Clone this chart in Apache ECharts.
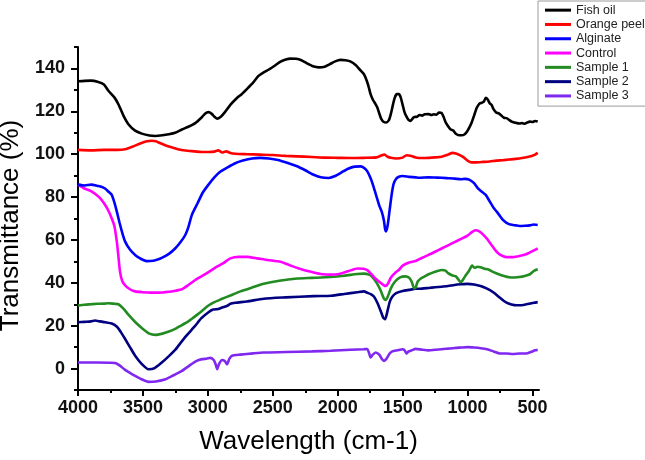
<!DOCTYPE html>
<html>
<head>
<meta charset="utf-8">
<script src="https://cdn.jsdelivr.net/npm/echarts@6/dist/echarts.min.js"></script>
<style>
html,body{margin:0;padding:0;background:#fff;}
#chart{width:645px;height:460px;}
</style>
</head>
<body>
<div id="chart"></div>
<script>
// Series names (legend order)
const seriesNames = ['Fish oil', 'Orange peel', 'Alginate', 'Control', 'Sample 1', 'Sample 2', 'Sample 3'];

// Tick labels
const xTickLabels = [4000, 3500, 3000, 2500, 2000, 1500, 1000, 500];
const xMinorTicks = [3750, 3250, 2750, 2250, 1750, 1250, 750];
const yTickLabels = [0, 20, 40, 60, 80, 100, 120, 140];
const yMinorTicks = [-10, 10, 30, 50, 70, 90, 110, 130, 150];

// [wavenumber (cm-1), transmittance (%)]
const fishOil = [
  [4000,134],[3950,134.2],[3900,134.3],[3850,133.8],[3800,132.5],[3766,129.6],[3720,126.5],[3689,123.3],[3650,118],[3612,114],
  [3560,111],[3509,109.6],[3450,108.7],[3406,108.5],[3350,108.8],[3300,109.3],[3252,110],[3200,111.5],[3150,112.8],[3097,114.5],
  [3050,117],[3020,119],[2995,119.6],[2970,118.8],[2950,117.5],[2930,116.6],[2900,117.5],[2870,119.5],[2827,123],[2780,126],
  [2740,128],[2698,130.5],[2650,133.5],[2610,136.5],[2570,138.2],[2530,139.5],[2480,141.5],[2440,143.2],[2400,144.2],[2364,144.6],
  [2320,144.5],[2280,143.8],[2240,142.5],[2190,141],[2146,140.5],[2100,140.8],[2060,142],[2020,143.3],[1978,144],[1940,143.8],
  [1900,143.2],[1860,141.5],[1830,139.5],[1799,137.4],[1775,134],[1760,131],[1747,128],[1730,125.5],[1710,123.5],[1695,121.8],
  [1680,119],[1665,116.5],[1645,115],[1625,114.8],[1605,116],[1590,119],[1575,123],[1560,126.5],[1545,128],[1529,128],
  [1515,126.5],[1500,123],[1485,119.5],[1470,117.5],[1455,116],[1440,115.5],[1425,116.5],[1413,117.3],[1390,117.5],[1370,118.3],
  [1350,118],[1330,118.6],[1300,118.7],[1280,118.3],[1260,118.6],[1240,118.4],[1220,119.4],[1200,119.2],[1185,117.5],[1170,115],
  [1150,113],[1130,111.5],[1110,111],[1090,109.5],[1066,108.8],[1045,108.8],[1025,109.2],[1005,110.5],[990,112],[970,114.5],
  [950,118],[930,121.5],[910,123.5],[890,124],[875,124.5],[860,126.3],[845,125.5],[830,123.8],[815,123],[800,121],
  [780,119.5],[760,119],[740,118],[720,117],[700,116.8],[680,116],[660,115.2],[640,114.8],[620,114.5],[600,114.3],
  [580,114.5],[560,114.2],[540,114.8],[520,115.2],[500,115],[480,115.5],[460,115.2]
];
const orangePeel = [
  [4000,102],[3900,101.8],[3800,102],[3700,102],[3637,102.3],[3580,103.5],[3520,105],[3470,106],[3431,106.3],[3400,106],
  [3370,105.2],[3329,104.2],[3280,103.2],[3230,102.3],[3174,101.7],[3100,101.3],[3050,101],[2995,101],[2950,101.2],[2920,101.8],
  [2890,100.8],[2860,101.3],[2820,100.4],[2789,100.2],[2700,100],[2600,99.8],[2500,99.6],[2400,99.2],[2314,99],[2200,98.7],
  [2100,98.4],[2000,98.3],[1900,98.2],[1800,98.3],[1700,98.5],[1660,99.5],[1640,99.8],[1615,98.8],[1590,98.3],[1550,98],
  [1500,98.4],[1470,99.5],[1440,99.3],[1400,98.5],[1350,98.2],[1300,98.3],[1250,98.5],[1200,98.8],[1150,99.8],[1116,100.6],
  [1090,100.3],[1060,99.6],[1030,98.5],[1000,97],[970,96.2],[937,96.2],[880,96.4],[830,96.6],[780,97],[731,97.2],
  [680,97.5],[630,97.8],[580,98.2],[530,98.8],[500,99.3],[480,99.8],[460,100.6]
];
const alginate = [
  [4000,85.8],[3950,85.4],[3897,85.8],[3850,85.2],[3820,84.8],[3792,84],[3765,82.5],[3740,81],[3720,77.5],[3701,73.2],
  [3680,68],[3660,63.5],[3637,59.2],[3600,55.5],[3558,52.9],[3510,51],[3470,50.1],[3420,50.3],[3380,51],[3355,51.6],
  [3300,53.5],[3252,56],[3210,59],[3174,62.3],[3150,66],[3123,71.7],[3080,77],[3040,82],[2995,85.8],[2950,89.2],
  [2900,92],[2850,93.8],[2789,95.8],[2730,97],[2660,98],[2596,98.3],[2530,98],[2460,97.3],[2390,96],[2313,94.4],
  [2250,92.5],[2190,90.5],[2130,89.2],[2068,88.9],[2020,89.8],[1970,91.5],[1920,93.2],[1870,94.2],[1824,94.3],[1795,93.5],
  [1772,92],[1745,88.5],[1721,84.2],[1700,80],[1680,76],[1660,73],[1644,69],[1635,65],[1628,64],[1615,67],
  [1600,74],[1585,81],[1570,86],[1550,88.5],[1529,89.5],[1500,89.8],[1450,89.4],[1400,89.2],[1375,89],[1300,89.2],
  [1250,89.1],[1200,89],[1150,88.8],[1100,88.6],[1050,88.3],[1020,88.5],[988,88.1],[950,86.5],[920,84],[890,82.5],
  [860,81],[830,78],[800,75],[780,73.5],[757,71.7],[730,69.5],[700,68],[670,67.2],[630,66.8],[600,66.5],
  [560,66.6],[520,66.8],[490,67.2],[460,67]
];
const control = [
  [4000,85.8],[3950,84],[3900,82.8],[3869,81.5],[3830,79.5],[3792,76.4],[3765,73.5],[3740,70],[3720,66.5],[3701,59.2],
  [3690,53],[3676,45],[3660,41],[3637,38.8],[3600,37],[3560,36],[3500,35.6],[3440,35.4],[3380,35.4],[3300,35.8],
  [3250,36.3],[3200,37],[3150,39],[3100,41.2],[3050,43],[2995,45],[2940,47.2],[2880,49.2],[2827,51.4],[2760,52.1],
  [2698,52.1],[2620,51.4],[2540,50.6],[2441,49.8],[2360,48],[2280,46.3],[2184,44.8],[2120,44],[2056,43.8],[2000,44],
  [1950,44.8],[1900,45.8],[1850,46.7],[1800,46.6],[1772,45.9],[1740,44],[1710,42],[1695,41.2],[1670,40],[1644,38.8],
  [1630,38.5],[1610,40],[1590,42.5],[1560,44.5],[1530,46],[1500,48],[1450,49.5],[1400,50.2],[1350,51.7],[1300,53],
  [1250,54.5],[1200,56],[1150,57.5],[1100,59],[1050,60.5],[1000,62],[970,63.5],[940,64.5],[910,64],[880,62.5],
  [850,60.5],[820,58],[790,55.5],[760,53.5],[730,52.5],[700,52],[650,52],[600,52.5],[550,53.3],[500,54.8],[460,56]
];
const sample1 = [
  [4000,29.4],[3950,29.8],[3900,30],[3850,30.2],[3800,30.3],[3766,30.5],[3720,30.2],[3689,30],[3650,28],[3610,25],
  [3558,21.6],[3500,18.5],[3450,16.3],[3404,15.7],[3350,16.3],[3300,17.3],[3252,18.5],[3200,20.3],[3150,22],[3123,23.2],
  [3060,26.2],[2995,29.4],[2950,31],[2900,32.3],[2827,34.1],[2750,36],[2650,38],[2570,39.6],[2450,41],[2313,42],
  [2200,42.3],[2056,42.7],[1950,43.3],[1850,44.1],[1799,44.3],[1760,43.8],[1733,42.7],[1700,40],[1670,36.5],[1644,32.6],
  [1630,32],[1615,33.5],[1590,37.5],[1560,40.5],[1520,42.5],[1480,43],[1450,42.4],[1430,40.5],[1412,37.5],[1400,37.8],
  [1385,40.5],[1360,42],[1330,43],[1300,44],[1250,45.2],[1200,46],[1170,45.7],[1150,44.5],[1120,43.5],[1090,43],
  [1070,41.5],[1055,40.3],[1040,41],[1020,43],[990,45.5],[965,48],[945,47],[925,47.5],[900,47.3],[870,46.6],
  [840,46.2],[800,45],[760,44],[720,43.2],[680,42.6],[640,42.5],[600,42.7],[560,43.2],[520,44],[490,45.5],[460,46.3]
];
const sample2 = [
  [4000,21.6],[3950,21.8],[3900,22],[3869,22.4],[3830,22],[3790,21.6],[3740,21],[3700,19.5],[3670,17],[3637,13.8],
  [3600,10],[3560,6],[3510,2.2],[3457,-0.3],[3410,0.2],[3355,2.8],[3300,5.8],[3250,8.8],[3226,10.7],[3170,15],
  [3097,20],[3050,23.5],[2995,26.3],[2960,27.5],[2920,27.8],[2890,28.5],[2850,29.3],[2827,30.2],[2789,30.7],[2700,31.3],
  [2570,32.6],[2400,33.2],[2184,33.8],[2050,34],[1950,34.8],[1850,35.6],[1799,36],[1770,35.3],[1746,34.7],[1720,33.5],
  [1695,30.7],[1670,27],[1650,23.8],[1635,23],[1620,26],[1600,31],[1580,33.5],[1550,35.2],[1500,36.2],[1450,36.7],
  [1400,37.2],[1350,37.3],[1300,37.6],[1250,37.9],[1200,38.2],[1150,38.5],[1100,39],[1050,39.3],[1000,39.5],[950,39.2],
  [900,38.5],[850,37.3],[800,35.5],[760,33.5],[720,31.5],[680,30.2],[640,29.6],[600,29.5],[560,29.8],[520,30.3],
  [490,30.7],[460,31]
];
const sample3 = [
  [4000,2.8],[3950,2.8],[3850,2.8],[3760,2.7],[3714,2.6],[3680,1.5],[3640,-0.5],[3600,-2],[3560,-3.4],[3510,-5],
  [3457,-6.2],[3400,-6],[3326,-5],[3260,-3],[3200,-1.1],[3140,1.5],[3090,3.5],[3045,4.4],[3010,4.6],[2980,5],
  [2955,4],[2940,2],[2928,-0.3],[2915,2],[2891,4],[2870,3.5],[2853,2],[2835,4.5],[2814,6],[2750,6.5],
  [2650,7.1],[2570,7.5],[2400,7.7],[2200,8],[2056,8.3],[1900,8.8],[1800,9],[1772,9.1],[1760,7.5],[1747,5.2],
  [1730,6.5],[1708,7.5],[1680,6.5],[1660,4.5],[1644,3.6],[1625,4.5],[1600,7],[1580,8],[1540,8.5],[1500,9],
  [1485,8.5],[1470,7],[1455,8],[1430,8.5],[1400,9.2],[1350,8.8],[1300,8.5],[1250,8.8],[1200,9],[1150,9.3],
  [1100,9.6],[1050,9.8],[1000,10],[950,9.8],[900,9.5],[850,9],[800,8],[750,7],[700,7],[650,6.8],
  [600,7],[550,7],[510,7.8],[480,8.5],[460,8.8]
];

const seriesData = [fishOil, orangePeel, alginate, control, sample1, sample2, sample3];
const seriesColors = ['#000000', '#ff0000', '#0000ff', '#ff00ff', '#228b22', '#000080', '#8028f0'];

const FONT = '"Liberation Sans", Arial, sans-serif';

const chart = echarts.init(document.getElementById('chart'), null, {renderer: 'canvas'});

const plain = v => String(v);

const option = {
  animation: false,
  backgroundColor: '#ffffff',
  grid: {left: 78, right: 106, top: 47, bottom: 70, containLabel: false, outerBoundsMode: 'none'},
  legend: {
    orient: 'vertical',
    left: 538,
    top: 1,
    padding: [2, 8, 3, 7],
    itemGap: 0,
    itemWidth: 26,
    itemHeight: 3,
    icon: 'rect',
    borderColor: '#9a9a9a',
    borderWidth: 1,
    backgroundColor: '#ffffff',
    textStyle: {fontFamily: FONT, fontSize: 12.5, color: '#222', lineHeight: 14.3},
    data: seriesNames
  },
  xAxis: [
    {
      type: 'value', min: 450, max: 4000, inverse: true, position: 'bottom',
      splitLine: {show: false},
      axisLine: {show: true, onZero: false, lineStyle: {color: '#000', width: 2}},
      axisTick: {show: true, inside: false, length: 6, customValues: xTickLabels, lineStyle: {color: '#000', width: 2}},
      axisLabel: {customValues: xTickLabels, formatter: plain, color: '#111', fontFamily: FONT, fontWeight: 'bold', fontSize: 18, margin: 9},
      name: 'Wavelength (cm-1)', nameLocation: 'middle', nameGap: 39,
      nameTextStyle: {fontFamily: FONT, fontSize: 26, color: '#000'}
    },
    {
      type: 'value', min: 450, max: 4000, inverse: true, position: 'bottom',
      splitLine: {show: false},
      axisLine: {show: false, onZero: false},
      axisTick: {show: true, inside: false, length: 3, customValues: xMinorTicks, lineStyle: {color: '#000', width: 2}},
      axisLabel: {show: false}
    }
  ],
  yAxis: [
    {
      type: 'value', min: -10, max: 150, position: 'left',
      splitLine: {show: false},
      axisLine: {show: true, onZero: false, lineStyle: {color: '#000', width: 2}},
      axisTick: {show: true, inside: false, length: 7, customValues: yTickLabels, lineStyle: {color: '#000', width: 2}},
      axisLabel: {customValues: yTickLabels, formatter: plain, color: '#111', fontFamily: FONT, fontWeight: 'bold', fontSize: 18, margin: 13},
      name: 'Transmittance (%)', nameLocation: 'middle', nameGap: 47,
      nameTextStyle: {fontFamily: FONT, fontSize: 26, color: '#000', padding: [0, 14, 0, 0]}
    },
    {
      type: 'value', min: -10, max: 150, position: 'left',
      splitLine: {show: false},
      axisLine: {show: false, onZero: false},
      axisTick: {show: true, inside: false, length: 4, customValues: yMinorTicks, lineStyle: {color: '#000', width: 2}},
      axisLabel: {show: false}
    }
  ],
  series: seriesNames.map((name, i) => ({
    name: name,
    type: 'line',
    xAxisIndex: 0,
    yAxisIndex: 0,
    data: seriesData[i],
    showSymbol: false,
    symbol: 'none',
    smooth: 0.2,
    color: seriesColors[i],
    lineStyle: {color: seriesColors[i], width: 2.6},
    itemStyle: {color: seriesColors[i]},
    z: 10 - i
  }))
};

chart.setOption(option);
</script>
</body>
</html>
